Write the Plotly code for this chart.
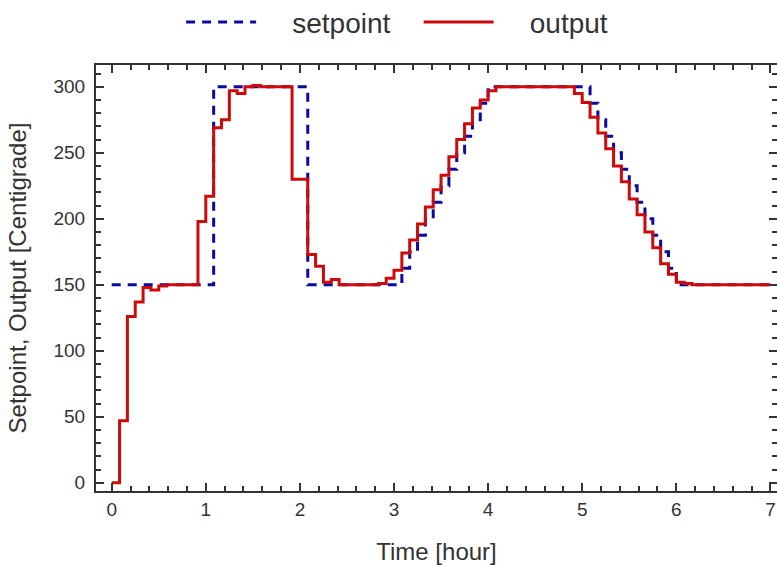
import plotly.graph_objects as go

# sampling grid: one sample every 5 minutes over 7 hours
SAMPLES_PER_HOUR = 12
n_samples = 85
time_h = [k / SAMPLES_PER_HOUR for k in range(n_samples)]

setpoint = (
    [150] * 13
    + [300] * 12
    + [150] * 12
    + [162.5, 175, 187.5, 200, 212.5, 225, 237.5, 250, 262.5, 275, 287.5]
    + [300] * 13
    + [287.5, 275, 262.5, 250, 237.5, 225, 212.5, 200, 187.5, 175, 162.5]
    + [150] * 13
)

output = [
    0, 47, 126, 137, 148, 146, 149, 150, 150, 150, 150,
    198, 217, 269, 275, 297, 295, 300, 301, 300, 300, 300, 300,
    230, 230, 173, 164, 152, 154, 150, 150, 150, 150, 150, 151,
    155, 161, 174, 184, 196, 209, 222, 233, 247, 260, 272, 284, 290, 297,
    300, 300, 300, 300, 300, 300, 300, 300, 300, 300,
    295, 288, 277, 265, 253, 240, 228, 215, 203, 190, 178, 166, 158, 152, 151,
    150, 150, 150, 150, 150, 150, 150, 150, 150, 150, 150,
]

x_ticks = [0, 1, 2, 3, 4, 5, 6, 7]
y_ticks = [0, 50, 100, 150, 200, 250, 300]

NB = "\u00a0"
fig = go.Figure()
fig.add_trace(go.Scatter(
    x=time_h, y=setpoint, mode="lines", line_shape="hv",
    name=NB * 4 + "setpoint" + NB * 3,
    line=dict(color="#0a0aa0", width=3, dash="9px,7px"),
))
fig.add_trace(go.Scatter(
    x=time_h, y=output, mode="lines", line_shape="hv",
    name=NB * 4 + "output",
    line=dict(color="#cc0a0a", width=3),
))

axis_common = dict(
    showgrid=False, zeroline=False, showline=True, linewidth=2,
    linecolor="#333", mirror="ticks", ticks="inside", ticklen=8,
    tickwidth=2, tickcolor="#333", automargin=False,
    ticklabeloverflow="allow",
    tickfont=dict(size=19, color="#333"),
)

fig.update_layout(
    width=777, height=565,
    margin=dict(l=96, r=0, t=65, b=74, autoexpand=False),
    plot_bgcolor="white", paper_bgcolor="white",
    font=dict(family="Liberation Sans, Arial, sans-serif", color="#333"),
    showlegend=True,
    legend=dict(
        orientation="h", x=0.125, xanchor="left", y=1.10, yanchor="middle",
        font=dict(size=28, color="#333"), itemwidth=70,
        bgcolor="rgba(0,0,0,0)",
    ),
    xaxis=dict(
        **axis_common, range=[-0.167, 7.07], tickvals=x_ticks,
        minor=dict(dtick=0.2, ticks="inside", ticklen=5, tickwidth=1.5, tickcolor="#333"),
        title=dict(text="Time [hour]", font=dict(size=24, color="#333"), standoff=24),
    ),
    yaxis=dict(
        **axis_common, range=[-6.2, 316.5], tickvals=y_ticks, ticklabelstandoff=5,
        minor=dict(dtick=10, ticks="inside", ticklen=5, tickwidth=1.5, tickcolor="#333"),
        title=dict(text="Setpoint, Output [Centigrade]", font=dict(size=24, color="#333"), standoff=20),
    ),
)

fig.write_html(
    "out.html",
    config={"displayModeBar": False},
    post_script="document.body.style.margin='0';document.body.style.overflow='hidden';",
)
